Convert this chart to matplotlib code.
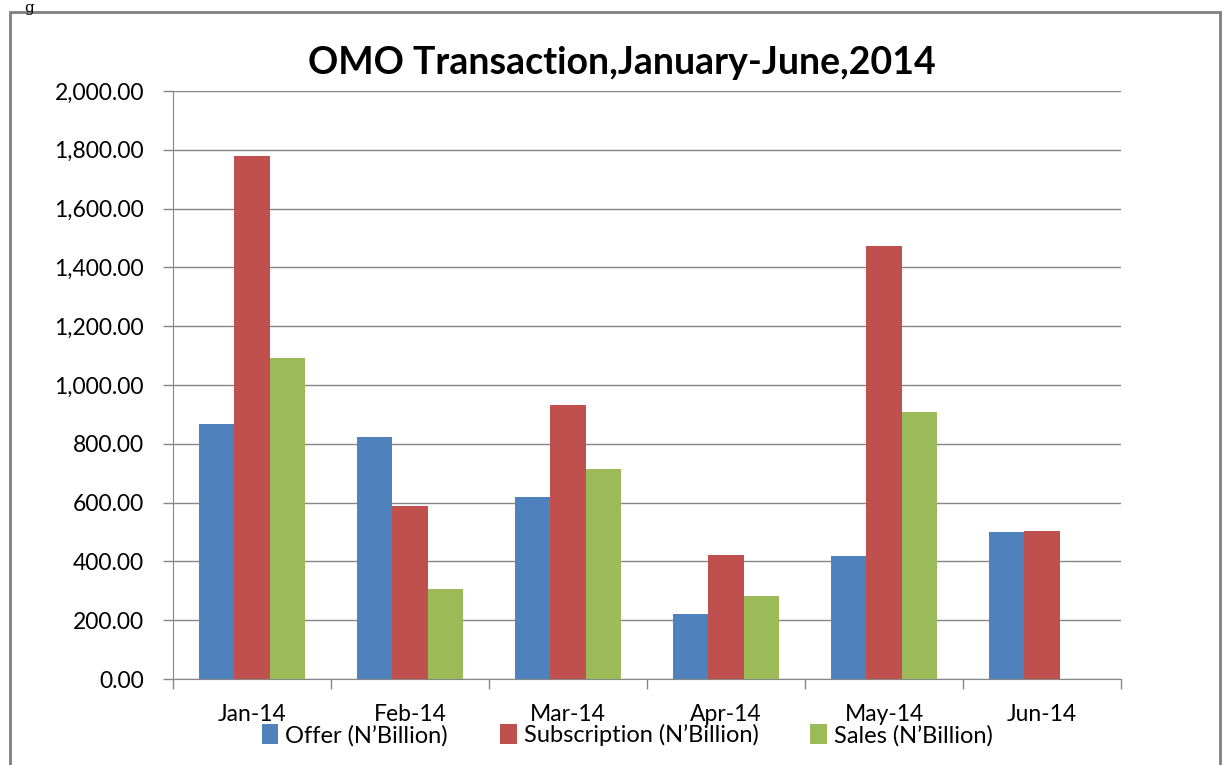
import matplotlib.pyplot as plt
import numpy as np
from matplotlib.patches import Rectangle
from matplotlib.ticker import FuncFormatter, MultipleLocator

plt.rcParams['font.family'] = ['Lato', 'DejaVu Sans']

months = ['Jan-14', 'Feb-14', 'Mar-14', 'Apr-14', 'May-14', 'Jun-14']
offer = [867, 823, 619, 220, 417, 499]
subscription = [1779, 588, 932, 422, 1473, 503]
sales = [1092, 306, 714, 283, 907, 0]

series_names = ['Offer (N\u2019Billion)', 'Subscription (N\u2019Billion)', 'Sales (N\u2019Billion)']
colors = ['#4f81bd', '#c0504d', '#9bbb59']

fig = plt.figure(figsize=(12.23, 7.65), dpi=100)
ax = fig.add_axes([0.1415, 0.1124, 0.7751, 0.7686])

# outer frame of the chart object
fig.patches.append(Rectangle((0.008, -0.05), 0.9895, 1.034, transform=fig.transFigure,
                             fill=False, edgecolor='#7f7f7f', linewidth=2))
fig.text(0.02, 0.999, 'g', fontsize=11, family='DejaVu Serif', va='top', ha='left')

x = np.arange(len(months))
w = 0.223
for i, (vals, name, c) in enumerate(zip([offer, subscription, sales], series_names, colors)):
    ax.bar(x + (i - 1) * w, vals, width=w, color=c, label=name, zorder=3)

ax.set_xlim(-0.5, len(months) - 0.5)
ax.set_ylim(0, 2000)
ax.yaxis.set_major_locator(MultipleLocator(200))
ax.yaxis.set_major_formatter(FuncFormatter(lambda v, p: f'{v:,.2f}'))
ax.grid(axis='y', color='#868686', linewidth=1, zorder=0)

ax.set_xticks(x)
ax.set_xticklabels(months)
ax.set_xticks(np.arange(-0.5, len(months), 1), minor=True)
ax.tick_params(axis='x', which='major', length=0, pad=18, labelsize=16.5)
ax.tick_params(axis='x', which='minor', length=7, color='#868686', width=1)
ax.tick_params(axis='y', length=7, color='#868686', width=1, labelsize=16.5, pad=14)

for side in ['top', 'right']:
    ax.spines[side].set_visible(False)
ax.spines['left'].set_color('#868686')
ax.spines['bottom'].set_color('#868686')

ax.set_title('OMO Transaction,January-June,2014', fontsize=27, fontweight='bold',
             pad=12, x=0.473)

fig.legend(loc='center', bbox_to_anchor=(0.513, 0.039), ncol=3, frameon=False,
           fontsize=17, handlelength=0.7, handleheight=0.9, handletextpad=0.3,
           columnspacing=2.2)

fig.savefig('out.png', dpi=100)
